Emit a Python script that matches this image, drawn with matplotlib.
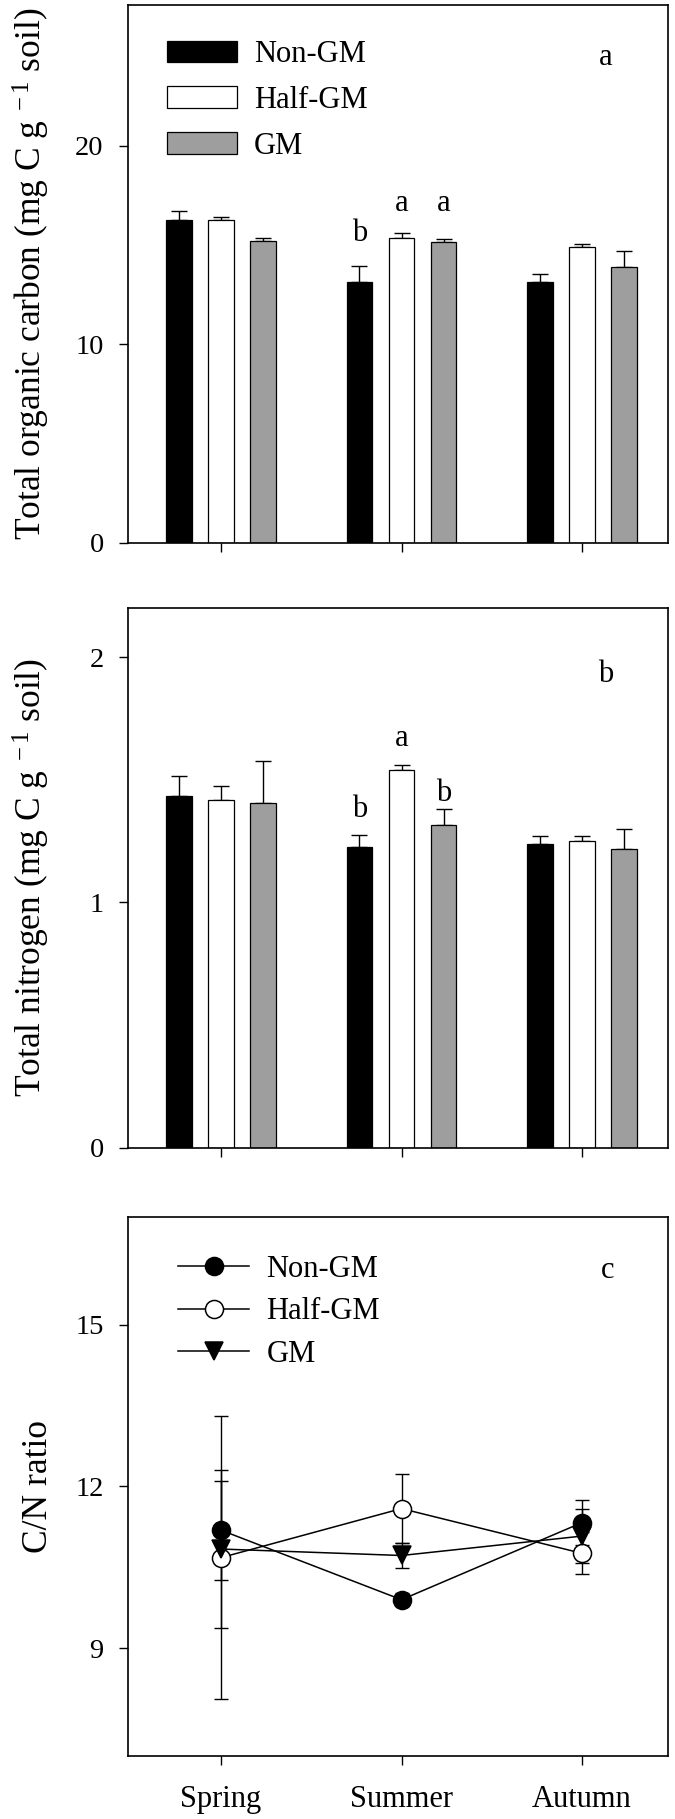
import numpy as np
import matplotlib.pyplot as plt

plt.rcParams['font.family'] = ['Liberation Serif', 'DejaVu Serif']
plt.rcParams['mathtext.fontset'] = 'custom'
plt.rcParams['mathtext.rm'] = 'Liberation Serif'
plt.rcParams['mathtext.it'] = 'Liberation Serif:italic'

# Seasons and treatments
seasons = ['Spring', 'Summer', 'Autumn']
treatments = ['Non-GM', 'Half-GM', 'GM']

# Total organic carbon (mean, upper error)
toc_non = [16.25, 13.15, 13.15]
toc_half = [16.25, 15.37, 14.92]
toc_gm = [15.21, 15.13, 13.87]
toc_non_err = [0.48, 0.77, 0.38]
toc_half_err = [0.17, 0.25, 0.15]
toc_gm_err = [0.15, 0.15, 0.81]

# Total nitrogen
tn_non = [1.435, 1.226, 1.239]
tn_half = [1.416, 1.540, 1.252]
tn_gm = [1.406, 1.315, 1.218]
tn_non_err = [0.08, 0.05, 0.03]
tn_half_err = [0.06, 0.02, 0.02]
tn_gm_err = [0.17, 0.065, 0.08]

# C/N ratio
cn_non = [11.19, 9.90, 11.33]
cn_half = [10.68, 11.59, 10.76]
cn_gm = [10.84, 10.72, 11.08]
cn_non_err = [0.92, 0.12, 0.42]
cn_half_err = [2.62, 0.64, 0.39]
cn_gm_err = [1.46, 0.24, 0.50]

# Significance letters: (season index, treatment index, y, letter)
toc_letters = [(1, 0, 15.6, 'b'), (1, 1, 17.1, 'a'), (1, 2, 17.1, 'a')]
tn_letters = [(1, 0, 1.38, 'b'), (1, 1, 1.67, 'a'), (1, 2, 1.445, 'b')]

bar_colors = ['black', 'white', '#9e9e9e']
offset = 0.233
width = 0.142
fs_tick = 20.5
fs_lab = 25.5
fs_txt = 22

fig = plt.figure(figsize=(6.75, 18.19), dpi=100)
ax_a = fig.add_axes([0.1896, 0.7015, 0.8, 0.2957])
ax_b = fig.add_axes([0.1896, 0.3689, 0.8, 0.2969])
ax_c = fig.add_axes([0.1896, 0.0346, 0.8, 0.2964])

x = np.arange(len(seasons))


def bar_panel(ax, means, errs, letters, ylim, yticks, ylabel, tag, tag_y):
    for i, (m, e) in enumerate(zip(means, errs)):
        xs = x + (i - 1) * offset
        ax.bar(xs, m, width, color=bar_colors[i], edgecolor='black', linewidth=0.9,
               label=treatments[i], zorder=2)
        ax.errorbar(xs, m, yerr=[np.zeros(len(m)), e], fmt='none', ecolor='black',
                    elinewidth=1.0, capsize=6, capthick=1.0, zorder=1)
    for si, ti, yv, s in letters:
        ax.text(si + (ti - 1) * offset, yv, s, ha='center', va='center', fontsize=fs_txt)
    ax.text(2.13, tag_y, tag, ha='center', va='center', fontsize=fs_txt)
    ax.set_ylim(*ylim)
    ax.set_yticks(yticks)
    ax.set_ylabel(ylabel, fontsize=fs_lab)
    ax.yaxis.set_label_coords(-0.14, 0.5)


def style(ax):
    ax.set_xlim(-0.515, 2.476)
    ax.set_xticks(x)
    for sp in ax.spines.values():
        sp.set_linewidth(1.2)
    ax.tick_params(axis='both', direction='out', length=6.5, width=1.0,
                   labelsize=fs_tick, pad=11, top=False, right=False)


bar_panel(ax_a, [toc_non, toc_half, toc_gm], [toc_non_err, toc_half_err, toc_gm_err],
          toc_letters, (0, 27.08), [0, 10, 20],
          'Total organic carbon (mg C g$^{\\ -1}$ soil)', 'a', 24.45)
bar_panel(ax_b, [tn_non, tn_half, tn_gm], [tn_non_err, tn_half_err, tn_gm_err],
          tn_letters, (0, 2.2), [0, 1, 2],
          'Total nitrogen (mg C g$^{\\ -1}$ soil)', 'b', 1.93)
ax_a.legend(frameon=False, loc='upper left', bbox_to_anchor=(0.072, 0.935),
            fontsize=fs_txt, handlelength=2.3, handleheight=0.7, handletextpad=0.55,
            labelspacing=0.55, borderpad=0, borderaxespad=0)

# C/N ratio panel
markers = [dict(marker='o', mfc='black'), dict(marker='o', mfc='white'),
           dict(marker='v', mfc='black')]
for i, (m, e) in enumerate(zip([cn_non, cn_half, cn_gm], [cn_non_err, cn_half_err, cn_gm_err])):
    ax_c.errorbar(x, m, yerr=e, fmt='none', ecolor='black', elinewidth=1.0,
                  capsize=5, capthick=1.0, zorder=1)
    ax_c.plot(x, m, color='black', linewidth=1.1, markersize=13, mec='black',
              mew=1.1, label=treatments[i], zorder=3 + i, **markers[i])
ax_c.text(2.14, 16.0, 'c', ha='center', va='center', fontsize=fs_txt)
ax_c.set_ylim(7, 17)
ax_c.set_yticks([9, 12, 15])
ax_c.set_ylabel('C/N ratio', fontsize=fs_lab)
ax_c.yaxis.set_label_coords(-0.135, 0.5)
ax_c.legend(frameon=False, loc='upper left', bbox_to_anchor=(0.0926, 0.93),
            fontsize=fs_txt, handlelength=2.34, handletextpad=0.55,
            labelspacing=0.45, borderpad=0, borderaxespad=0)

for ax in (ax_a, ax_b, ax_c):
    style(ax)
ax_a.set_xticklabels([])
ax_b.set_xticklabels([])
ax_c.set_xticklabels(seasons, fontsize=fs_txt)
ax_c.tick_params(axis='x', pad=14)

fig.savefig('out.png', dpi=100)
